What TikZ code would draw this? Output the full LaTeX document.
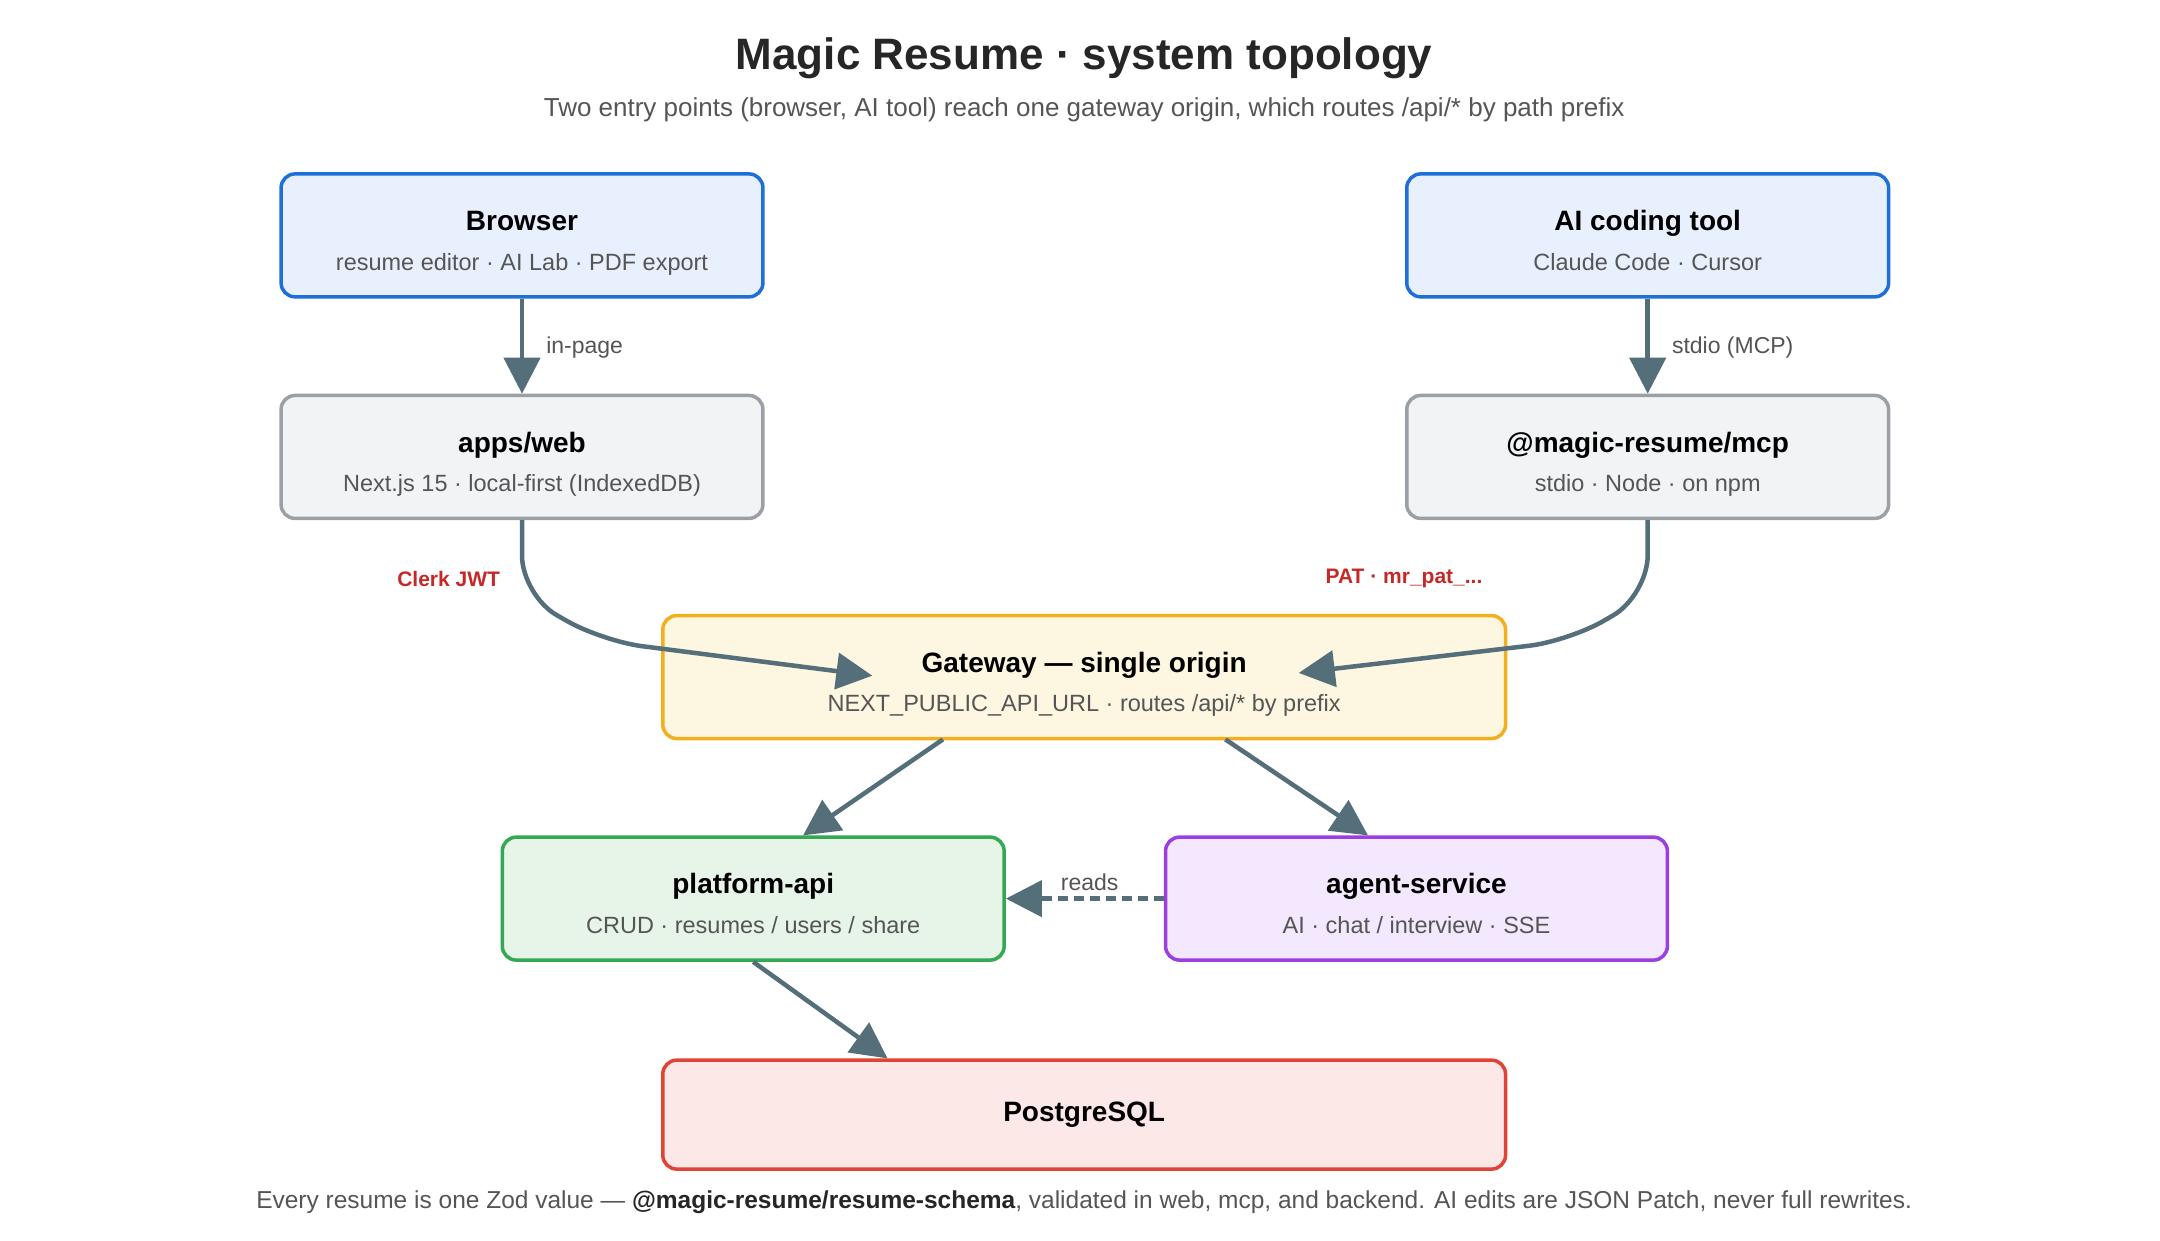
\documentclass[tikz,border=0pt]{standalone}
\usepackage{fontspec}
\setmainfont{Liberation Sans}
\usetikzlibrary{arrows.meta}
\definecolor{edge}{HTML}{546E7A}
\definecolor{subtxt}{HTML}{555555}
\definecolor{lbl}{HTML}{C62828}
\tikzset{
  box/.style={draw, rounded corners=14pt, line width=3.5pt, align=center,
    minimum width=482pt, minimum height=123pt, inner sep=0pt},
  wide/.style={minimum width=843pt},
  mid/.style={minimum width=502pt},
  conn/.style={draw=edge, line width=4.5pt, -{Triangle[length=36pt, width=36pt]}},
  hd/.style={font=\fontsize{28pt}{32pt}\selectfont\bfseries},
  small/.style={font=\fontsize{23pt}{27pt}\selectfont, text=subtxt},
  tag/.style={font=\fontsize{21pt}{25pt}\selectfont\bfseries, text=lbl},
}
\newcommand{\boxtext}[2]{{\fontsize{28pt}{32pt}\selectfont\bfseries\rule{0pt}{38pt}#1\strut}\\[10pt]{\fontsize{23.5pt}{27pt}\selectfont\color{subtxt}#2\strut}}
\begin{document}
\begin{tikzpicture}[x=1.385pt, y=-1.385pt]
  \useasboundingbox[fill=white] (0,0) rectangle (1560,896);

  \node[font=\fontsize{44pt}{50pt}\selectfont\bfseries, text=black!85] (title) at (783,42) {Magic Resume · system topology};
  \node[font=\fontsize{26pt}{30pt}\selectfont, text=subtxt] (subtitle) at (783,79) {Two entry points (browser, AI tool) reach one gateway origin, which routes /api/* by path prefix};

  % boxes
  \node[box, draw={rgb,255:red,31;green,111;blue,217}, fill={rgb,255:red,232;green,240;blue,253}] (browser) at (377,170) {\boxtext{Browser}{resume editor · AI Lab · PDF export}};
  \node[box, draw={rgb,255:red,31;green,111;blue,217}, fill={rgb,255:red,232;green,240;blue,253}] (aitool) at (1190,170) {\boxtext{AI coding tool}{Claude Code · Cursor}};
  \node[box, draw={rgb,255:red,154;green,160;blue,166}, fill={rgb,255:red,241;green,243;blue,245}] (web) at (377,330) {\boxtext{apps/web}{Next.js 15 · local-first (IndexedDB)}};
  \node[box, draw={rgb,255:red,154;green,160;blue,166}, fill={rgb,255:red,241;green,243;blue,245}] (mcp) at (1190,330) {\boxtext{@magic-resume/mcp}{stdio · Node · on npm}};
  \node[box, wide, draw={rgb,255:red,242;green,176;blue,30}, fill={rgb,255:red,253;green,246;blue,224}] (gateway) at (783,489) {\boxtext{Gateway — single origin}{NEXT\_PUBLIC\_API\_URL · routes /api/* by prefix}};
  \node[box, mid, draw={rgb,255:red,52;green,168;blue,83}, fill={rgb,255:red,231;green,244;blue,232}] (platform) at (544,649) {\boxtext{platform-api}{CRUD · resumes / users / share}};
  \node[box, mid, draw={rgb,255:red,156;green,63;blue,224}, fill={rgb,255:red,243;green,232;blue,253}] (agent) at (1023,649) {\boxtext{agent-service}{AI · chat / interview · SSE}};
  \node[box, wide, minimum height=109pt, draw={rgb,255:red,224;green,68;blue,52}, fill={rgb,255:red,252;green,232;blue,230}, hd] (pg) at (783,805) {PostgreSQL};

  % bends
  \coordinate (wl) at (377,430);
  \coordinate (wb) at (435,463);
  \coordinate (wt) at (630,488);
  \coordinate (ml) at (1190,430);
  \coordinate (mb) at (1133,463);
  \coordinate (mt) at (938,486);

  % connectors
  \draw[conn] (browser) -- (web);
  \draw[conn] (aitool) -- (mcp);
  \draw[conn, rounded corners=40pt] (web.south) -- (wl) -- (wb) -- (wt);
  \draw[conn, rounded corners=40pt] (mcp.south) -- (ml) -- (mb) -- (mt);
  \draw[conn] (681,534) -- (platform.north -| 580,0);
  \draw[conn] (885,534) -- (agent.north -| 988,0);
  \draw[conn, dashed, dash pattern=on 10pt off 6pt] (agent.west) -- (platform.east);
  \draw[conn] (platform.south) -- (pg.north -| 641,0);

  % labels
  \node[anchor=west, small] (inpage) at (392,251) {in-page};
  \node[anchor=west, small] (stdio) at (1205,251) {stdio (MCP)};
  \node[tag] (clerk) at (324,418) {Clerk JWT};
  \node[tag] (pat) at (1014,418) {PAT · mr\_pat\_...};
  \node[small] (reads) at (787,637) {reads};

  \node[font=\fontsize{24.5pt}{28pt}\selectfont, text=subtxt] (footer) at (783,868) {Every resume is one Zod value — {\bfseries\color{black!85}@magic-resume/resume-schema}, validated in web, mcp, and backend. AI edits are JSON Patch, never full rewrites.};
\end{tikzpicture}
\end{document}
